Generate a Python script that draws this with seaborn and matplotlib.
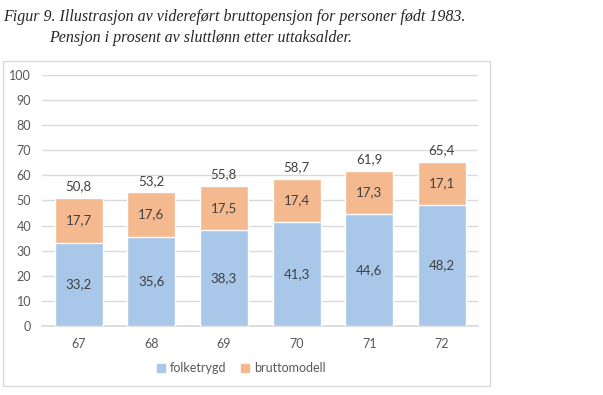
import matplotlib.pyplot as plt
import seaborn as sns
import pandas as pd
from matplotlib.patches import Rectangle, Patch

# Uttaksalder og pensjonsandeler (prosent av sluttlønn)
ages = ['67', '68', '69', '70', '71', '72']
folketrygd = [33.2, 35.6, 38.3, 41.3, 44.6, 48.2]
bruttomodell = [17.7, 17.6, 17.5, 17.4, 17.3, 17.1]
totals = [50.8, 53.2, 55.8, 58.7, 61.9, 65.4]

blue = '#A9C7E8'
orange = '#F5B98F'
txt = '#404040'

df = pd.DataFrame({'alder': ages, 'folketrygd': folketrygd,
                   'bruttomodell': bruttomodell})
df['stack'] = df['folketrygd'] + df['bruttomodell']

sns.set_theme(style='white')
plt.rcParams['font.family'] = ['Lato', 'DejaVu Sans']

fig = plt.figure(figsize=(6.03, 3.95), dpi=100)
ax = fig.add_axes([0.07, 0.175, 0.723, 0.635])

# chart frame
fig.patches.append(Rectangle((0.005, 0.023), 0.807, 0.823, transform=fig.transFigure,
                             fill=False, edgecolor='#D9D9D9', linewidth=1))

sns.barplot(data=df, x='alder', y='stack', color=orange, width=0.66,
            saturation=1, ax=ax, zorder=2)
sns.barplot(data=df, x='alder', y='folketrygd', color=blue, width=0.66,
            saturation=1, ax=ax, zorder=3)

ax.set_ylim(0, 100)
ax.set_yticks(range(0, 101, 10))
ax.yaxis.grid(True, color='#D9D9D9', linewidth=1)
ax.set_axisbelow(True)
for s in ['top', 'right', 'left']:
    ax.spines[s].set_visible(False)
ax.spines['bottom'].set_color('#D9D9D9')
ax.set_xlabel('')
ax.set_ylabel('')
ax.tick_params(axis='both', length=0, labelsize=9, labelcolor='#595959')
ax.tick_params(axis='x', pad=9)
ax.tick_params(axis='y', pad=8)

for i in range(len(ages)):
    ax.text(i, folketrygd[i] / 2, f"{folketrygd[i]:.1f}".replace('.', ','),
            ha='center', va='center', fontsize=9.5, color=txt, zorder=5)
    ax.text(i, folketrygd[i] + bruttomodell[i] / 2,
            f"{bruttomodell[i]:.1f}".replace('.', ','),
            ha='center', va='center', fontsize=9.5, color=txt, zorder=5)
    ax.annotate(f"{totals[i]:.1f}".replace('.', ','),
                (i, folketrygd[i] + bruttomodell[i]), textcoords='offset points',
                xytext=(0, 4), ha='center', va='bottom', fontsize=9.5, color=txt)

handles = [Patch(color=blue, label='folketrygd'),
           Patch(color=orange, label='bruttomodell')]
fig.legend(handles=handles, loc='center', bbox_to_anchor=(0.4, 0.068), ncol=2,
           frameon=False, fontsize=9, labelcolor='#595959', handlelength=0.6,
           handleheight=0.6, handletextpad=0.4, columnspacing=1.2)

fig.text(0.005, 0.958, 'Figur 9. Illustrasjon av videreført bruttopensjon for personer født 1983.',
         family='Liberation Serif', style='italic', fontsize=11.5, va='center', ha='left')
fig.text(0.081, 0.903, 'Pensjon i prosent av sluttlønn etter uttaksalder.',
         family='Liberation Serif', style='italic', fontsize=11.5, va='center', ha='left')

fig.savefig('out.png', dpi=100)
